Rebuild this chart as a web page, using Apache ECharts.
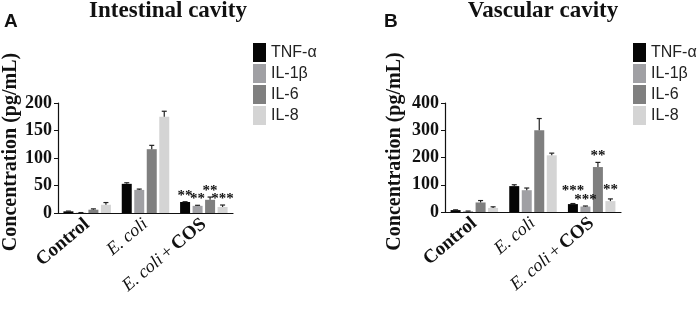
<!DOCTYPE html>
<html>
<head>
<meta charset="utf-8">
<script src="https://cdn.jsdelivr.net/npm/echarts@6/dist/echarts.min.js"></script>
<style>
  html, body { margin: 0; padding: 0; background: #fff; }
  #chart { width: 699px; height: 309px; }
</style>
</head>
<body>
<div id="chart"></div>
<script>
  // groups on the x axis
  const categories = ['Control', 'E. coli', 'E. coli + COS']
  const cytokines = ['TNF-α', 'IL-1β', 'IL-6', 'IL-8']
  const colors = ['#050505', '#a0a0a4', '#7f7f7f', '#d4d4d4']

  // A: intestinal cavity (pg/mL), mean and error
  const aTnf = [3, 53, 20]
  const aIl1b = [0.5, 42, 13]
  const aIl6 = [6, 116, 24]
  const aIl8 = [15, 175, 11]
  const aTnfErr = [0.5, 2, 0.5]
  const aIl1bErr = [0.3, 1.5, 1]
  const aIl6Err = [1.5, 7, 5]
  const aIl8Err = [4, 10, 3.5]
  const aSig = [['', '', '**'], ['', '', '**'], ['', '', '**'], ['', '', '***']]

  // B: vascular cavity (pg/mL)
  const bTnf = [7, 95, 29]
  const bIl1b = [3, 80, 20]
  const bIl6 = [35, 300, 165]
  const bIl8 = [15, 208, 40]
  const bTnfErr = [1, 5, 2]
  const bIl1bErr = [0.5, 8, 2]
  const bIl6Err = [7, 43, 17]
  const bIl8Err = [4, 8, 8]
  const bSig = [['', '', '***'], ['', '', '***'], ['', '', '**'], ['', '', '**']]

  const yTicksA = { max: 200, interval: 50 }
  const yTicksB = { max: 400, interval: 100 }

  const serif = 'Liberation Serif'
  const sans = 'Liberation Sans'
  // extra lift (px) for stars that would collide with a neighbour
  const starLiftA = [[0, 0, 0], [0, 0, 0], [0, 0, 0], [0, 0, 0]]
  const starLiftB = [[0, 0, 6], [0, 0, 0], [0, 0, 0], [0, 0, 3]]

  const chart = echarts.init(document.getElementById('chart'))

  function labelFmt(v) {
    if (v === 'Control') return '{b|Control}'
    if (v === 'E. coli') return '{i|E. coli}'
    return '{i|E. coli} {n|+} {b|COS}'
  }

  function xAxisFor(idx) {
    return {
      type: 'category',
      gridIndex: idx,
      data: categories,
      axisLine: { lineStyle: { color: '#111', width: 1.2 } },
      axisTick: { show: false },
      axisLabel: {
        rotate: 40,
        margin: 9,
        interval: 0,
        color: '#111',
        formatter: labelFmt,
        rich: {
          b: { fontFamily: serif, fontWeight: 'bold', fontSize: 19, color: '#111' },
          i: { fontFamily: serif, fontStyle: 'italic', fontSize: 18, color: '#111' },
          n: { fontFamily: serif, fontSize: 18, color: '#111' },
        },
      },
    }
  }

  function yAxisFor(idx, ticks, gap) {
    return {
      type: 'value',
      gridIndex: idx,
      min: 0,
      max: ticks.max,
      interval: ticks.interval,
      name: 'Concentration (pg/mL)',
      nameLocation: 'middle',
      nameGap: gap,
      nameTextStyle: {
        fontFamily: serif, fontWeight: 'bold', fontSize: 20, color: '#111',
        padding: [0, 0, 0, 12],
      },
      axisLine: { show: true, lineStyle: { color: '#111', width: 1.2 } },
      axisTick: { show: true, length: 4, lineStyle: { color: '#111' } },
      splitLine: { show: false },
      axisLabel: {
        margin: 6,
        fontFamily: serif, fontWeight: 'bold', fontSize: 18, color: '#111',
      },
    }
  }

  function barSeries(idx, values) {
    return values.map((vals, k) => ({
      name: cytokines[k],
      type: 'bar',
      xAxisIndex: idx,
      yAxisIndex: idx,
      barWidth: 10,
      barGap: '25%',
      itemStyle: { color: colors[k] },
      data: vals,
      z: 2,
    }))
  }

  // error bars (top cap only) and significance stars
  function errSeries(idx, values, errs, sig, lift) {
    const data = []
    values.forEach((vals, k) => {
      vals.forEach((v, i) => data.push([i, v + errs[k][i], v, k]))
    })
    return {
      type: 'custom',
      name: 'err',
      xAxisIndex: idx,
      yAxisIndex: idx,
      encode: { x: 0, y: 1 },
      z: 3,
      silent: true,
      data: data,
      renderItem(params, api) {
        const i = api.value(0)
        const k = api.value(3)
        const off = k * 12.5 - 18.75
        const top = api.coord([i, api.value(1)])
        const base = api.coord([i, api.value(2)])
        const x = top[0] + off
        const children = [
          { type: 'line', shape: { x1: x, y1: base[1], x2: x, y2: top[1] }, style: { stroke: '#222', lineWidth: 1.2 } },
          { type: 'line', shape: { x1: x - 2.5, y1: top[1], x2: x + 2.5, y2: top[1] }, style: { stroke: '#222', lineWidth: 1.2 } },
        ]
        const s = sig[k][i]
        if (s) {
          children.push({
            type: 'text',
            style: {
              text: s, x: x, y: top[1] - 6 - lift[k][i],
              textAlign: 'center', textVerticalAlign: 'middle',
              font: 'bold 15px ' + serif, fill: '#111',
            },
          })
        }
        return { type: 'group', children: children }
      },
    }
  }

  function legendFor(left) {
    return {
      left: left,
      top: 38,
      orient: 'vertical',
      icon: 'rect',
      itemWidth: 13,
      itemHeight: 19,
      itemGap: 2,
      itemStyle: { borderWidth: 0 },
      selectedMode: false,
      data: cytokines,
      textStyle: { fontFamily: sans, fontSize: 16, color: '#222' },
    }
  }

  const option = {
    animation: false,
    backgroundColor: '#fff',
    grid: [
      { left: 58, top: 103, width: 175, height: 110 },
      { left: 445, top: 103, width: 176, height: 109 },
    ],
    xAxis: [xAxisFor(0), xAxisFor(1)],
    yAxis: [yAxisFor(0, yTicksA, 36), yAxisFor(1, yTicksB, 40)],
    legend: [legendFor(248), legendFor(628)],
    graphic: [
      { type: 'text', style: { text: 'Intestinal cavity', x: 168, y: 0, textAlign: 'center', font: 'bold 23px ' + serif, fill: '#111' } },
      { type: 'text', style: { text: 'Vascular cavity', x: 543, y: 0, textAlign: 'center', font: 'bold 23px ' + serif, fill: '#111' } },
      { type: 'text', style: { text: 'A', x: 4, y: 12, font: 'bold 19px ' + sans, fill: '#111' } },
      { type: 'text', style: { text: 'B', x: 384, y: 12, font: 'bold 19px ' + sans, fill: '#111' } },
    ],
    series: [
      ...barSeries(0, [aTnf, aIl1b, aIl6, aIl8]),
      errSeries(0, [aTnf, aIl1b, aIl6, aIl8], [aTnfErr, aIl1bErr, aIl6Err, aIl8Err], aSig, starLiftA),
      ...barSeries(1, [bTnf, bIl1b, bIl6, bIl8]),
      errSeries(1, [bTnf, bIl1b, bIl6, bIl8], [bTnfErr, bIl1bErr, bIl6Err, bIl8Err], bSig, starLiftB),
    ],
  }

  chart.setOption(option)
</script>
</body>
</html>
